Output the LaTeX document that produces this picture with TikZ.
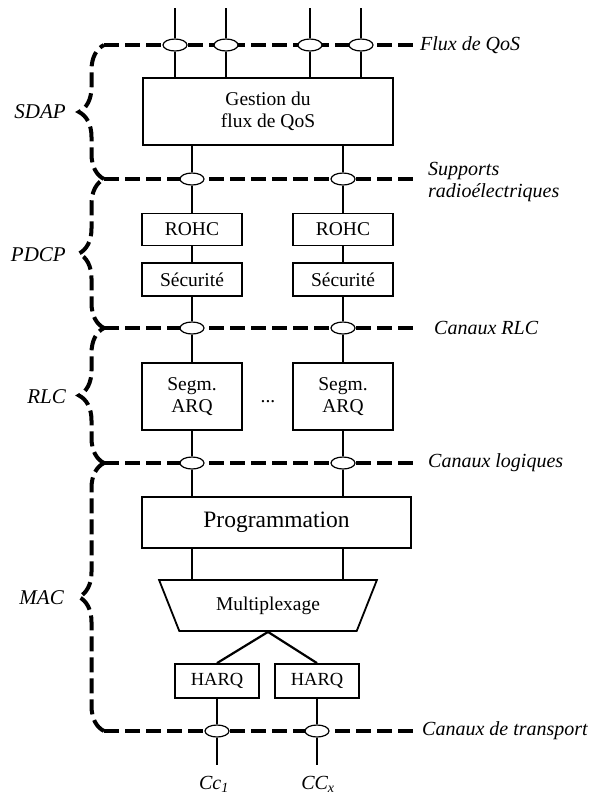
\documentclass[tikz,border=0pt]{standalone}
\usepackage{fontspec}
\setmainfont{Liberation Serif}
\usetikzlibrary{calc,positioning,shapes.geometric,decorations.pathreplacing}
\pgfdeclarelayer{background}
\pgfsetlayers{background,main}

\begin{document}
\begin{tikzpicture}[
    x=1pt,y=-1pt,
    font=\fontsize{19.5}{22}\selectfont,
    box/.style={draw,line width=1.8pt,fill=white,inner sep=0pt,align=center},
    port/.style={draw,ellipse,fill=white,line width=1.2pt,
      minimum width=24pt,minimum height=12pt,inner sep=0pt},
    link/.style={line width=2.2pt},
    chan/.style={line width=4pt,dash pattern=on 15pt off 6pt},
    layerbrace/.style={chan,decorate,decoration={brace,amplitude=25pt}},
    chanlabel/.style={anchor=west,inner sep=0pt,align=left,
      font=\fontsize{20}{22}\selectfont\itshape},
    layerlabel/.style={anchor=east,inner sep=0pt,
      font=\fontsize{21}{23}\selectfont\itshape}
  ]
  \useasboundingbox (0,0) rectangle (597,796);
  % qos flows
  \foreach \x [count=\i] in {175,226,310,361} {
    \coordinate (flow in\i) at (\x,8);
    \node [port] (flow\i) at (\x,45) {};
  }
  \node [box,minimum width=250pt,minimum height=67pt]
    at (268,111.5) (qos) {Gestion du\\flux de QoS}
  ;
  % pdcp
  \foreach \x [count=\i] in {192,343} {
    \node [port] (rb\i) at (\x,179) {};
    \node [box,minimum width=100pt,minimum height=32pt]
      at (\x,229.5) (rohc\i) {ROHC}
    ;
    \node [box,minimum width=100pt,minimum height=33pt]
      at (\x,279.5) (sec\i) {Sécurité}
    ;
    \node [port] (rlc\i) at (\x,328) {};
    \node [box,minimum width=100pt,minimum height=67pt]
      at (\x,396.5) (arq\i) {Segm.\\ARQ}
    ;
    \node [port] (log\i) at (\x,463) {};
  }
  \node [anchor=base] at (268,402) (dots) {...};
  % mac
  \node [box,minimum width=269pt,minimum height=51pt,
      font=\fontsize{23.5}{26}\selectfont]
    at (276.5,522.5) (sched) {Programmation}
  ;
  \node [box,trapezium,trapezium left angle=56.3,trapezium right angle=56.3,
      shape border rotate=180,trapezium stretches=true,
      minimum width=218pt,minimum height=51pt]
    at (268,605.5) (mux) {Multiplexage}
  ;
  \foreach \x [count=\i] in {217,317} {
    \node [box,minimum width=84pt,minimum height=34pt,
        font=\fontsize{18.5}{21}\selectfont]
      at (\x,681) (harq\i) {HARQ}
    ;
    \node [port] (tr\i) at (\x,731) {};
    \coordinate (cc\i) at (\x,765);
  }
  % links
  \begin{pgfonlayer}{background}
    \foreach \i in {1,...,4} {
      \draw [link] (flow in\i) -- (flow\i) -- (flow\i |- qos.north);
    }
    \foreach \i in {1,2} {
      \draw [link]
        (rb\i |- qos.south)
        -- (rb\i)
        -- (rohc\i)
        -- (sec\i)
        -- (rlc\i)
        -- (arq\i)
        -- (log\i)
        -- (log\i |- sched.north)
      ;
      \draw [link] (rb\i |- sched.south) -- (rb\i |- mux.north);
      \draw [link] (mux.south) -- (harq\i.north);
      \draw [link] (harq\i) -- (tr\i) -- (cc\i);
    }
    % channels
    \draw [chan] (104,45) -- (418,45);
    \draw [chan] (104,179) -- (417,179);
    \draw [chan] (104,328) -- (415,328);
    \draw [chan] (104,463) -- (415,463);
    \draw [chan] (104,731) -- (413,731);
  \end{pgfonlayer}
  % layer braces
  \draw [layerbrace] (104,179) -- (104,45);
  \draw [layerbrace] (104,328) -- (104,179);
  \draw [layerbrace] (104,463) -- (104,328);
  \draw [layerbrace] (104,731) -- (104,463);
  \node [layerlabel] at (66,112) (sdap) {SDAP};
  \node [layerlabel] at (66,255) (pdcp) {PDCP};
  \node [layerlabel] at (66,397) (rlc) {RLC};
  \node [layerlabel] at (64,598) (mac) {MAC};
  % channel names
  \node [chanlabel] at (420,45) (flux name) {Flux de QoS};
  \node [chanlabel] at (428,182) (rb name) {Supports\\radioélectriques};
  \node [chanlabel] at (434,328) (rlc name) {Canaux RLC};
  \node [chanlabel] at (428,463) (log name) {Canaux logiques};
  \node [chanlabel] at (422,731) (tr name) {Canaux de transport};
  \node [anchor=base,font=\fontsize{20}{22}\selectfont\itshape]
    at (214,789) (cc1 name) {Cc\textsubscript{1}}
  ;
  \node [anchor=base,font=\fontsize{20}{22}\selectfont\itshape]
    at (318,789) (ccx name) {CC\textsubscript{x}}
  ;
\end{tikzpicture}
\end{document}
